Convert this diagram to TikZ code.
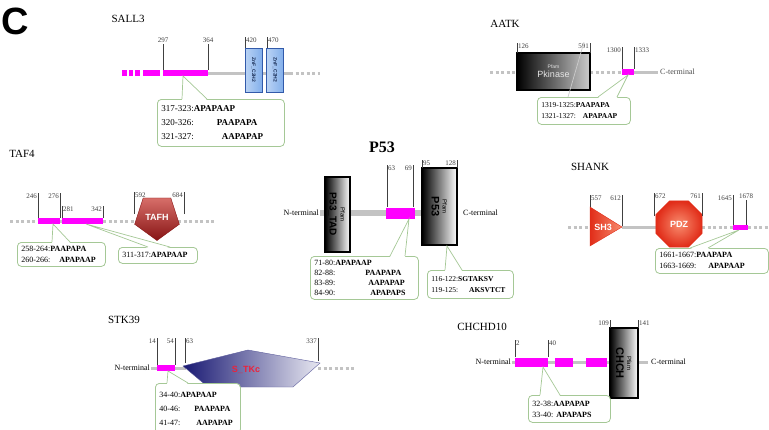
\documentclass[tikz,border=0pt]{standalone}
\usepackage{fontspec}
\setmainfont{Liberation Serif}
\setsansfont{Liberation Sans}
\usepackage{graphicx}
\usepackage{tikz}
\usetikzlibrary{calc,shapes.geometric}
\definecolor{MotifMagenta}{RGB}{255,0,255}
\definecolor{ChainGray}{RGB}{195,195,195}
\definecolor{CalloutGreen}{RGB}{165,200,150}
\definecolor{ZnfBlue}{RGB}{130,175,235}
\definecolor{ZnfEdge}{RGB}{50,90,170}
\definecolor{TafhLight}{RGB}{215,110,105}
\definecolor{TafhDark}{RGB}{135,20,20}
\definecolor{DomainRed}{RGB}{225,45,25}
\definecolor{DomainPeach}{RGB}{248,140,110}
\definecolor{KinaseNavy}{RGB}{25,25,115}
\definecolor{KinaseRed}{RGB}{235,35,60}

\newcommand{\motif}[3]{#1:\hspace*{#2}\textbf{#3}}
\newcommand{\pointer}[4]{%
  \fill[white] (#1) -- ($(#2.north west)+(#3,1)$) -- ($(#2.north west)+(#4,1)$) -- cycle;
  \draw[link] ($(#2.north west)+(#3,0)$) -- (#1) -- ($(#2.north west)+(#4,0)$);}

\begin{document}
\begin{tikzpicture}[x=1pt,y=-1pt,
  backbone/.style={ChainGray,line width=3pt},
  gapline/.style={ChainGray,line width=3pt,dash pattern=on 3pt off 2.5pt},
  motifbar/.style={MotifMagenta,line width=6pt},
  tickline/.style={black!75,line width=0.6pt},
  num/.style={font=\fontsize{7}{8}\selectfont,inner sep=0.8pt},
  gene/.style={font=\fontsize{11}{12}\selectfont},
  terminus/.style={font=\fontsize{8}{9}\selectfont,inner sep=1pt},
  callout/.style={draw=CalloutGreen,line width=0.8pt,rounded corners=4pt,fill=white,
    anchor=north west,align=left,inner xsep=4pt,inner ysep=1pt},
  link/.style={CalloutGreen,line width=0.7pt},
  pfam/.style={draw=black,line width=1.1pt,left color=black,right color=white,inner sep=0pt},
  znf/.style={draw=ZnfEdge,line width=0.6pt,left color=ZnfBlue!55!white,right color=ZnfBlue,
    minimum width=17pt,minimum height=44pt,inner sep=0pt,
    font=\sffamily\bfseries\fontsize{5}{5}\selectfont,text=ZnfEdge!50!black},
  domtext/.style={font=\sffamily\bfseries\fontsize{9}{9}\selectfont,text=white,inner sep=0pt},
]
\useasboundingbox (0,0) rectangle (769,429);

\node[font=\sffamily\bfseries\fontsize{38}{38}\selectfont] (panelC) at (15,21) {C};

% SALL3
\node[gene] (sall3) at (128,19) {SALL3};
\draw[backbone] (208,73) -- (290,73);
\draw[gapline] (290,73) -- (320,73);
\foreach \a/\b in {122/127,129/133,135/140,143/160,163/208}
  \draw[motifbar] (\a,73) -- (\b,73);
\draw[tickline] (163,70) -- (163,44) node[num,anchor=south] (sallA) {297};
\draw[tickline] (208,70) -- (208,44) node[num,anchor=south] (sallB) {364};
\draw[tickline] (245,48) -- (245,37) node[num,anchor=north west] (sallC) {420};
\draw[tickline] (267,48) -- (267,37) node[num,anchor=north west] (sallD) {470};
\node[znf] (znfA) at (253.5,70) {\rotatebox{-90}{ZnF\_C2H2}};
\node[znf] (znfB) at (275,70) {\rotatebox{-90}{ZnF\_C2H2}};
\coordinate (sallTip) at (183,76);
\node[callout,text width=119pt,minimum height=47pt,font=\fontsize{9}{14}\selectfont]
  (sallBox) at (157,99)
  {\motif{317-323}{0pt}{APAPAAP}\\\motif{320-326}{23pt}{PAAPAPA}\\\motif{321-327}{28pt}{AAPAPAP}};
\pointer{sallTip}{sallBox}{25}{50}

% AATK
\node[gene] (aatk) at (505,24) {AATK};
\draw[gapline] (490,72) -- (517,72);
\draw[gapline] (590,72) -- (622,72);
\draw[backbone] (634,72) -- (658,72);
\node[terminus,anchor=west,text=black!70] (aatkC) at (659,72) {C-terminal};
\node[pfam,minimum width=73pt,minimum height=37pt,right color=white!80!black,align=center,
  text=white!90!black,font=\sffamily\fontsize{9}{9}\selectfont] (pkinase) at (553.5,71.5)
  {{\fontsize{5}{6}\selectfont Pfam}\\Pkinase};
\draw[motifbar] (622,72) -- (634,72);
\draw[tickline] (517,53) -- (517,43) node[num,anchor=north west] (aatkA) {126};
\draw[tickline] (590,53) -- (590,43) node[num,anchor=north east] (aatkB) {591};
\draw[tickline] (622,69) -- (622,47) node[num,anchor=north east] (aatkD) {1300};
\draw[tickline] (634,69) -- (634,47) node[num,anchor=north west] (aatkE) {1333};
\coordinate (aatkTip) at (628,75);
\coordinate (kinTop) at (584,42);
\node[callout,text width=85pt,minimum height=27pt,font=\fontsize{7.5}{11}\selectfont]
  (aatkBox) at (537,97)
  {\motif{1319-1325}{0pt}{PAAPAPA}\\\motif{1321-1327}{7pt}{APAPAAP}};
\draw[white!80!black,line width=0.7pt] (kinTop) -- ($(aatkBox.north west)+(31,0)$);
\pointer{aatkTip}{aatkBox}{61}{80}

% TAF4
\node[gene] (taf4) at (22,154) {TAF4};
\draw[gapline] (10,221) -- (38,221);
\draw[backbone] (60,221) -- (62,221);
\draw[gapline] (103,221) -- (136,221);
\draw[gapline] (178,221) -- (216,221);
\draw[motifbar] (38,221) -- (60,221);
\draw[motifbar] (62,221) -- (103,221);
\node[regular polygon,regular polygon sides=5,shape border rotate=180,minimum size=47pt,
  inner sep=0pt,top color=TafhLight,bottom color=TafhDark,draw=TafhDark,domtext]
  (tafh) at (157,217) {TAFH};
\draw[tickline] (38,218) -- (38,193) node[num,anchor=north east] (tafA) {246};
\draw[tickline] (60,218) -- (60,193) node[num,anchor=north east] (tafB) {276};
\draw[tickline] (62,218) -- (62,206) node[num,anchor=north west] (tafC) {281};
\draw[tickline] (103,218) -- (103,206) node[num,anchor=north east] (tafD) {342};
\draw[tickline] (134,214) -- (134,192) node[num,anchor=north west] (tafE) {592};
\draw[tickline] (184,214) -- (184,192) node[num,anchor=north east] (tafF) {684};
\coordinate (tafTipA) at (53,224);
\coordinate (tafTipB) at (86,224);
\node[callout,text width=80pt,minimum height=24pt,font=\fontsize{8}{10.5}\selectfont]
  (tafBoxA) at (17,242)
  {\motif{258-264}{0pt}{PAAPAPA}\\\motif{260-266}{9pt}{APAPAAP}};
\node[callout,text width=71pt,minimum height=16pt,font=\fontsize{8}{10}\selectfont]
  (tafBoxB) at (118,247) {\motif{311-317}{0pt}{APAPAAP}};
\pointer{tafTipA}{tafBoxA}{35}{53}
\pointer{tafTipB}{tafBoxB}{30}{52}

% P53
\node[font=\bfseries\fontsize{16}{16}\selectfont] (p53) at (382,147) {P53};
\node[terminus,anchor=east] (p53N) at (320,213) {N-terminal};
\draw[ChainGray,line width=6pt] (320,213) -- (422,213);
\node[terminus,anchor=west] (p53C) at (462,213) {C-terminal};
\node[pfam,minimum width=25pt,minimum height=75pt] (tad) at (337.5,214.5)
  {\rotatebox{-90}{\begin{tabular}{@{}c@{}}{\sffamily\fontsize{6}{6}\selectfont Pfam}\\[-1pt]
   {\sffamily\bfseries\fontsize{10}{10}\selectfont P53\_TAD}\end{tabular}}};
\node[pfam,line width=1.6pt,minimum width=35pt,minimum height=77pt] (p53dom) at (439.5,206.5)
  {\rotatebox{-90}{\begin{tabular}{@{}c@{}}{\sffamily\fontsize{6}{6}\selectfont Pfam}\\[-1pt]
   {\sffamily\bfseries\fontsize{11}{11}\selectfont P53}\end{tabular}}};
\draw[MotifMagenta,line width=11pt] (386,213) -- (415,213);
\draw[tickline] (387,207) -- (387,165) node[num,anchor=north west] (p53A) {63};
\draw[tickline] (413,207) -- (413,165) node[num,anchor=north east] (p53B) {69};
\draw[tickline] (422,168) -- (422,160) node[num,anchor=north west] (p53D) {95};
\draw[tickline] (457,168) -- (457,160) node[num,anchor=north east] (p53E) {128};
\coordinate (p53TipA) at (409,219);
\coordinate (p53TipB) at (447,246);
\node[callout,text width=100pt,minimum height=43pt,font=\fontsize{8}{10}\selectfont]
  (p53BoxA) at (310,256)
  {\motif{71-80}{0pt}{APAPAAP}\\\motif{82-88}{30pt}{PAAPAPA}\\
   \motif{83-89}{33pt}{AAPAPAP}\\\motif{84-90}{35pt}{APAPAPS}};
\node[callout,text width=78pt,minimum height=28pt,font=\fontsize{7.5}{11}\selectfont]
  (p53BoxB) at (427,270)
  {\motif{116-122}{0pt}{SGTAKSV}\\\motif{119-125}{11pt}{AKSVTCT}};
\pointer{p53TipA}{p53BoxA}{80}{95}
\pointer{p53TipB}{p53BoxB}{18}{35}

% SHANK
\node[gene] (shank) at (590,167) {SHANK};
\draw[gapline] (568,227) -- (590,227);
\draw[backbone] (622,227) -- (656,227);
\draw[gapline] (702,227) -- (733,227);
\draw[gapline] (748,227) -- (769,227);
\path[draw=DomainRed,left color=DomainRed,right color=DomainPeach]
  (590,207) -- (622,227) -- (590,246) -- cycle;
\node[domtext] (sh3) at (603,227) {SH3};
\node[regular polygon,regular polygon sides=8,minimum size=50pt,inner sep=0pt,
  draw=DomainRed,shading=radial,inner color=DomainPeach,outer color=DomainRed,domtext]
  (pdz) at (679,224) {PDZ};
\draw[MotifMagenta,line width=5pt] (733,227) -- (748,227);
\draw[tickline] (590,207) -- (590,195) node[num,anchor=north west] (shankA) {557};
\draw[tickline] (622,226) -- (622,195) node[num,anchor=north east] (shankB) {612};
\draw[tickline] (654,216) -- (654,193) node[num,anchor=north west] (shankC) {672};
\draw[tickline] (702,216) -- (702,193) node[num,anchor=north east] (shankD) {761};
\draw[tickline] (733,225) -- (733,195) node[num,anchor=north east] (shankE) {1645};
\draw[tickline] (746,225) -- (746,200) node[num,anchor=south] (shankF) {1678};
\coordinate (shankTip) at (739,230);
\node[callout,text width=105pt,minimum height=25pt,font=\fontsize{8}{11}\selectfont]
  (shankBox) at (655,248)
  {\motif{1661-1667}{0pt}{PAAPAPA}\\\motif{1663-1669}{12pt}{APAPAAP}};
\pointer{shankTip}{shankBox}{35}{53}

% STK39
\node[gene] (stk39) at (124,320) {STK39};
\node[terminus,anchor=east] (stkN) at (151,368) {N-terminal};
\draw[backbone] (151,368) -- (186,368);
\draw[gapline] (318,368) -- (356,368);
\path[draw=KinaseNavy!70,left color=KinaseNavy,middle color=KinaseNavy!85!white,right color=KinaseNavy!10!white]
  (183,366) -- (248,350) -- (320,363) -- (293,387) -- (208,387) -- cycle;
\node[font=\sffamily\bfseries\fontsize{9}{9}\selectfont,text=KinaseRed] (stkc) at (246,370) {S\_TKc};
\draw[motifbar] (157,368) -- (175,368);
\draw[tickline] (157,365) -- (157,338) node[num,anchor=north east] (stkA) {14};
\draw[tickline] (175,365) -- (175,338) node[num,anchor=north east] (stkB) {54};
\draw[tickline] (185,363) -- (185,338) node[num,anchor=north west] (stkD) {63};
\draw[tickline] (318,361) -- (318,338) node[num,anchor=north east] (stkE) {337};
\coordinate (stkTip) at (168,371);
\node[callout,text width=77pt,minimum height=50pt,font=\fontsize{8}{14}\selectfont]
  (stkBox) at (155,383)
  {\motif{34-40}{0pt}{APAPAAP}\\\motif{40-46}{14pt}{PAAPAPA}\\\motif{41-47}{16pt}{AAPAPAP}};
\pointer{stkTip}{stkBox}{12}{33}

% CHCHD10
\node[gene] (chchd10) at (482,327) {CHCHD10};
\node[terminus,anchor=east] (chchN) at (512,362) {N-terminal};
\draw[backbone] (512,362) -- (648,362);
\node[terminus,anchor=west] (chchC) at (650,362) {C-terminal};
\foreach \a/\b in {515/548,555/573,586/607}
  \draw[MotifMagenta,line width=9pt] (\a,362) -- (\b,362);
\node[pfam,line width=1.6pt,minimum width=28pt,minimum height=70pt] (chch) at (624,363)
  {\rotatebox{-90}{\begin{tabular}{@{}c@{}}{\sffamily\fontsize{6}{6}\selectfont Pfam}\\[-1pt]
   {\sffamily\bfseries\fontsize{11}{11}\selectfont CHCH}\end{tabular}}};
\draw[tickline] (515,357) -- (515,340) node[num,anchor=north west] (chchA) {2};
\draw[tickline] (548,357) -- (548,340) node[num,anchor=north west] (chchB) {40};
\draw[tickline] (610,328) -- (610,320) node[num,anchor=north east] (chchD) {109};
\draw[tickline] (638,328) -- (638,320) node[num,anchor=north west] (chchE) {141};
\coordinate (chchTip) at (543,367);
\node[callout,text width=74pt,minimum height=27pt,font=\fontsize{8}{11}\selectfont]
  (chchBox) at (528,395)
  {\motif{32-38}{0pt}{AAPAPAP}\\\motif{33-40}{3pt}{APAPAPS}};
\pointer{chchTip}{chchBox}{12}{32}
\end{tikzpicture}
\end{document}
